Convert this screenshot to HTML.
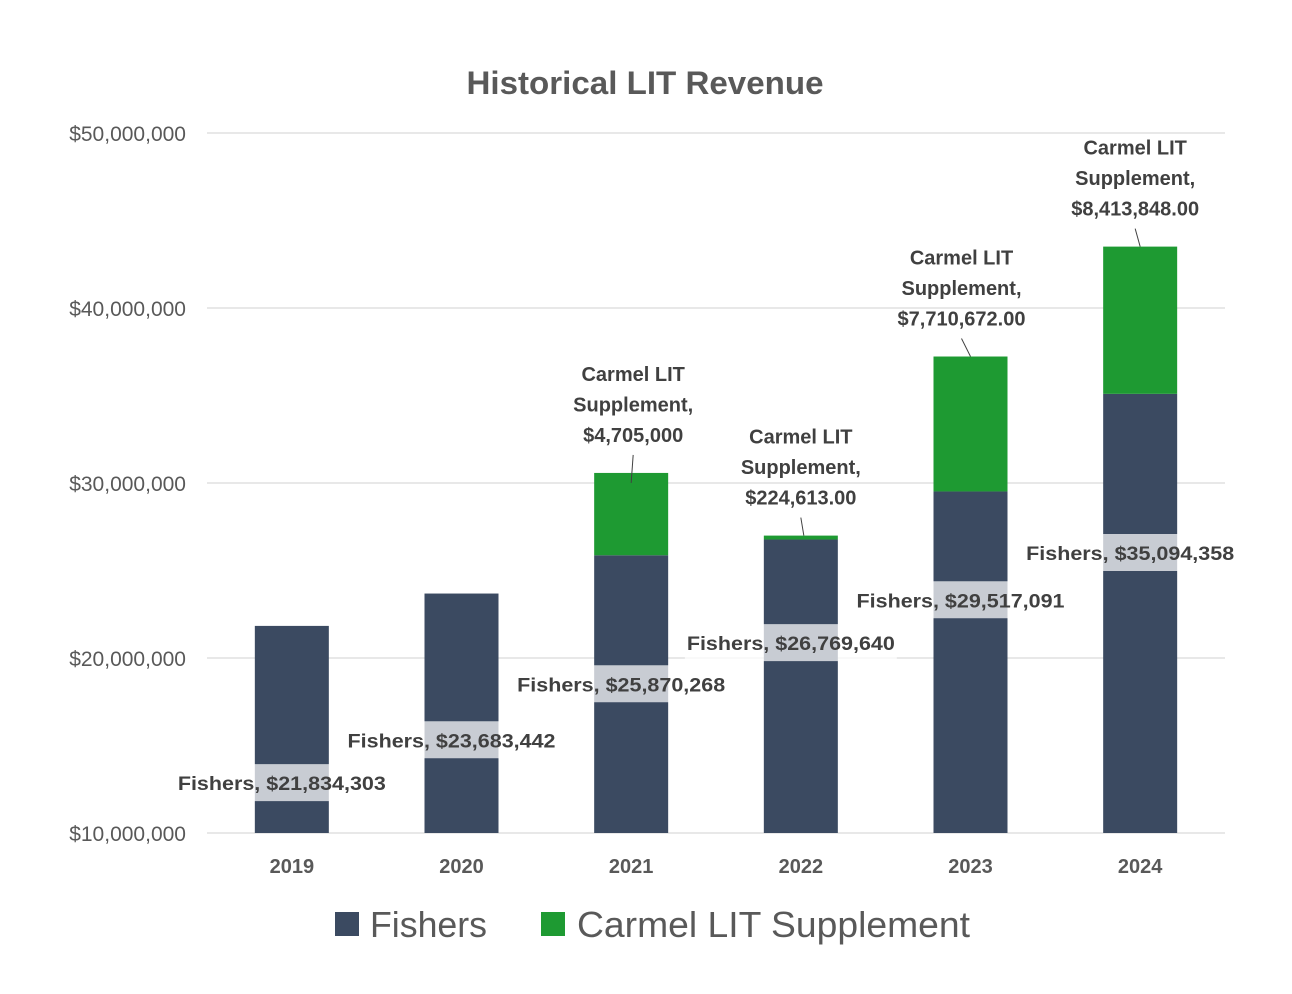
<!DOCTYPE html>
<html><head><meta charset="utf-8"><style>
html,body{margin:0;padding:0;background:#fff;}
svg{display:block;font-family:"Liberation Sans",sans-serif;}
</style></head><body>
<svg id="chart" width="1292" height="994" viewBox="0 0 1292 994">
<text x="645" y="94" text-anchor="middle" font-size="32" font-weight="bold" fill="#595959" textLength="357" lengthAdjust="spacingAndGlyphs">Historical LIT Revenue</text>
<g id="grid"></g><g id="bars"></g><g id="labels"></g>
<g>
<rect x="335" y="912" width="24" height="24" fill="#3b4a61"/>
<text x="370" y="937" font-size="36" fill="#595959" textLength="117" lengthAdjust="spacingAndGlyphs">Fishers</text>
<rect x="541" y="912" width="24" height="24" fill="#1e9a32"/>
<text x="577" y="937" font-size="36" fill="#595959" textLength="393" lengthAdjust="spacingAndGlyphs">Carmel LIT Supplement</text>
</g>
</svg>
<script>
const years=["2019","2020","2021","2022","2023","2024"];
const fishers=[21834303,23683442,25870268,26769640,29517091,35094358];
const carmel=[0,0,4705000,224613,7710672,8413848];
const fishersText=["$21,834,303","$23,683,442","$25,870,268","$26,769,640","$29,517,091","$35,094,358"];
const carmelText=["","","$4,705,000","$224,613.00","$7,710,672.00","$8,413,848.00"];
const fisherLabelAt=[12850000,15300000,18500000,20850000,23300000,26000000];
const yTicks=[10000000,20000000,30000000,40000000,50000000];
const yTickText=["$10,000,000","$20,000,000","$30,000,000","$40,000,000","$50,000,000"];

const NS="http://www.w3.org/2000/svg";
const x0=207,x1=1225,yMin=10000000,yMax=50000000,py0=833,py1=133;
const band=(x1-x0)/years.length, bw=74;
const y=v=>py0-(v-yMin)/(yMax-yMin)*(py0-py1);
const xc=i=>x0+band*(i+0.5);
const carmelDx=[0,0,2,0,-9,-5];
function mk(tag,attrs,parent,text){const e=document.createElementNS(NS,tag);for(const k in attrs)e.setAttribute(k,attrs[k]);if(text!==undefined)e.textContent=text;parent.appendChild(e);return e;}
const grid=document.getElementById('grid'),bars=document.getElementById('bars'),labels=document.getElementById('labels');
yTicks.forEach((t,i)=>{
 const l=mk('line',{x1:x0,x2:x1,y1:y(t),y2:y(t),stroke:'#d9d9d9','stroke-width':1.3},grid);
 
 
 const tx=mk('text',{x:186,y:y(t)+8,'text-anchor':'end','font-size':21,fill:'#595959'},grid,yTickText[i]);
 
 
});
years.forEach((yr,i)=>{
 const cx=xc(i);
 const r=mk('rect',{x:cx-bw/2,y:y(fishers[i]),width:bw,height:y(yMin)-y(fishers[i]),fill:'#3b4a61'},bars);
 
 
 if(carmel[i]>0){
  const top=fishers[i]+carmel[i];
  const c=mk('rect',{x:cx-bw/2,y:y(top),width:bw,height:y(fishers[i])-y(top),fill:'#1e9a32'},bars);
  
  
  const ty=y(top);
  const l1=ty-92;
  const tcx=cx+carmelDx[i];
  [ "Carmel LIT","Supplement,",carmelText[i] ].forEach((s,k)=>{
   const t=mk('text',{x:tcx,y:l1+k*30.5,'text-anchor':'middle','font-size':20,'font-weight':'bold',fill:'#404040'},labels,s);
   
   
  });
  const ld=mk('line',{x1:tcx,x2:cx+(i==3?3:0),y1:l1+74,y2:ty+(i==2?10:0),stroke:'#404040','stroke-width':1},labels);
  
  
 }
 const ly=y(fisherLabelAt[i]);
 const lx=cx-10;
 const bg=mk('rect',{x:lx-106,y:ly-19,width:212,height:37,fill:'#fff','fill-opacity':0.72},labels);
 
 
 const t=mk('text',{x:lx,y:ly+7,'text-anchor':'middle','font-size':19.5,'font-weight':'bold',fill:'#404040',textLength:208,lengthAdjust:'spacingAndGlyphs'},labels,"Fishers, "+fishersText[i]);
 
 
 const xl=mk('text',{x:cx,y:873,'text-anchor':'middle','font-size':20,'font-weight':'bold',fill:'#595959'},labels,yr);
 
 
});
</script>
</body></html>
